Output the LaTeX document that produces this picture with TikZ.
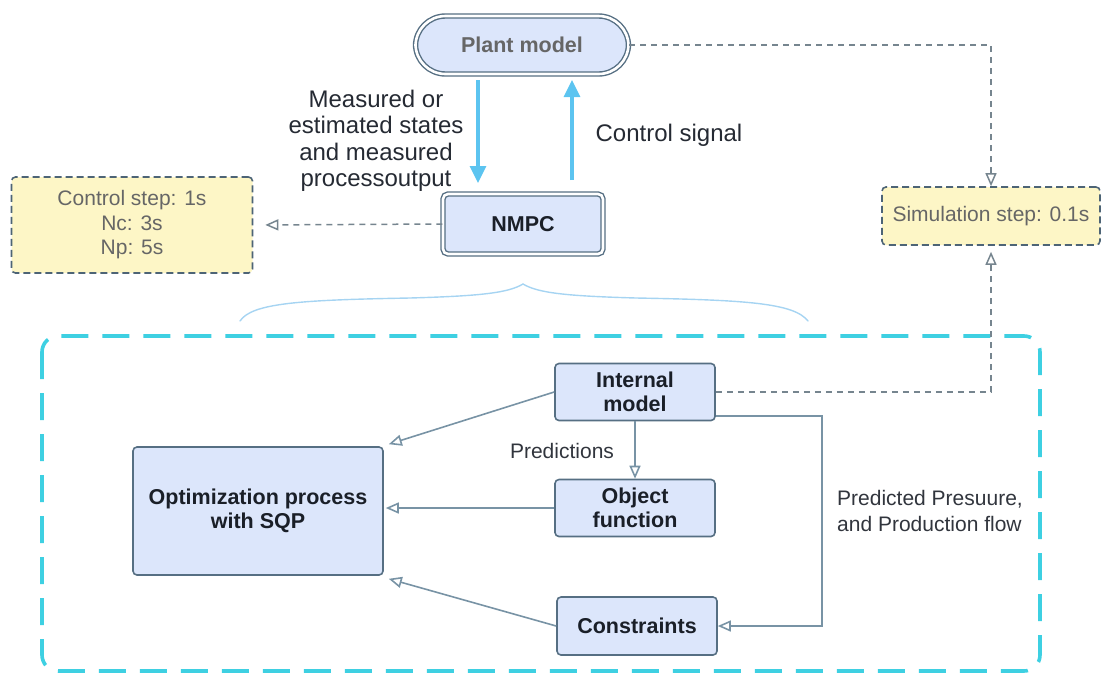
\documentclass[tikz,border=0pt]{standalone}
\usepackage{fontspec}
\setmainfont{Liberation Sans}
\usetikzlibrary{arrows.meta,calc}
\definecolor{boxfill}{HTML}{DCE6FB}
\definecolor{boxdraw}{HTML}{566F83}
\definecolor{yellowfill}{HTML}{FDF6C6}
\definecolor{conn}{HTML}{7893A5}
\definecolor{dashconn}{HTML}{76858F}
\definecolor{cyanline}{HTML}{3ED0E2}
\definecolor{bluearrow}{HTML}{5CC4F0}
\definecolor{bracecol}{HTML}{A6D4F2}
\definecolor{graytext}{HTML}{666666}
\definecolor{darktext}{HTML}{1A1F28}
\tikzset{
  procbox/.style={draw=boxdraw, line width=1.6pt, fill=boxfill, rounded corners=4pt,
    font=\fontsize{21.5}{24}\selectfont\bfseries, text=darktext, align=center,
    inner sep=0pt},
  notebox/.style={draw=boxdraw!90!black, line width=1.6pt, dash pattern=on 7pt off 4pt,
    fill=yellowfill, rounded corners=4pt, font=\fontsize{21}{24.5}\selectfont,
    text=graytext, align=center, inner sep=0pt},
  plainlabel/.style={font=\fontsize{21}{26}\selectfont, text=darktext!90, align=center, inner sep=0pt},
  biglabel/.style={font=\fontsize{24}{26.5}\selectfont, text=darktext!95, align=center, inner sep=0pt},
  opentip/.style={-{Triangle[open, length=13pt, width=11pt]}},
  solidconn/.style={draw=conn, line width=1.6pt, opentip},
  dashedconn/.style={draw=dashconn, line width=1.5pt, dash pattern=on 6pt off 5pt, opentip},
  bluearr/.style={draw=bluearrow, line width=3.2pt, -{Triangle[length=17pt, width=16pt]}},
}
\begin{document}
\begin{tikzpicture}[x=1pt, y=-1pt]
\useasboundingbox (0,0) rectangle (1108,686);

% Plant model (pill, double border)
\node[draw=boxdraw, line width=1.4pt, double=white, double distance=2.6pt,
  fill=boxfill, rounded corners=30pt, minimum width=213pt, minimum height=58pt,
  font=\fontsize{21.5}{24}\selectfont\bfseries, text=graytext, inner sep=0pt]
  (plant) at (522,45) {Plant model};

% NMPC (double border)
\node[draw=boxdraw, line width=1.4pt, double=white, double distance=2.6pt,
  fill=boxfill, rounded corners=5pt, minimum width=160pt, minimum height=60pt,
  font=\fontsize{21.5}{24}\selectfont\bfseries, text=darktext, inner sep=0pt]
  (nmpc) at (523,224) {NMPC};

% Note boxes
\node[notebox, minimum width=241pt, minimum height=96pt] (ctrl) at (132,225)
  {Control step: 1s\\Nc: 3s\\Np: 5s};
\node[notebox, minimum width=218pt, minimum height=58pt] (sim) at (991,216)
  {Simulation step: 0.1s};

% Labels top
\node[biglabel] (meas) at (376,141) {Measured or\\estimated states\\and measured\\processoutput};
\node[biglabel] (ctrlsig) at (669,135) {Control signal};

% Blue arrows
\coordinate (pdown) at (478,80);
\coordinate (ndown) at (478,183);
\coordinate (nup) at (572,180);
\coordinate (pup) at (572,80);
\draw[bluearr] (pdown) -- (ndown);
\draw[bluearr] (nup) -- (pup);

% NMPC -> control step
\draw[dashedconn, shorten >=12pt] (nmpc.west) -- (ctrl.east);

% Plant -> Simulation step
\coordinate (pc1) at (sim.north |- plant.east);
\draw[dashedconn] (plant.east) -- (pc1) -- (sim.north);

% Brace
\draw[bracecol, line width=1.4pt, line cap=round]
  (240,321) .. controls (252,303) and (300,300) .. (410,298)
  .. controls (480,296) and (508,293) .. (523,284)
  .. controls (538,293) and (566,296) .. (636,298)
  .. controls (746,300) and (794,303) .. (808,321);

% Big dashed frame
\draw[cyanline, line width=3.6pt, dash pattern=on 27pt off 14pt, rounded corners=16pt]
  (42,336) rectangle (1040,671);

% Inner boxes
\node[procbox, minimum width=160pt, minimum height=57pt] (im) at (635,392) {Internal\\model};
\node[procbox, minimum width=160pt, minimum height=57pt] (of) at (635,508) {Object\\function};
\node[procbox, minimum width=160pt, minimum height=58pt] (con) at (637,626) {Constraints};
\node[procbox, minimum width=250pt, minimum height=128pt] (opt) at (258,511) {Optimization process\\with SQP};

% Labels inner
\node[plainlabel] (pred) at (562,451) {Predictions};
\node[plainlabel, align=left] (ppf) at (930,511) {Predicted Presuure,\\ and Production flow};

% Solid connectors
\draw[solidconn] (im.west) -- ([xshift=5pt,yshift=2pt]opt.north east);
\draw[solidconn] (im.south) -- (of.north);
\draw[solidconn] (of.west) -- ([xshift=2pt]of.west -| opt.east);
\draw[solidconn] (con.west) -- ([xshift=5pt,yshift=-3pt]opt.south east);
\coordinate (r1) at (822,416);
\coordinate (r2) at (822,626);
\draw[solidconn] ([yshift=-24pt]im.east) -- (r1) -- (r2) -- (con.east);

% Internal model -> Simulation step
\coordinate (ic1) at (sim.south |- im.east);
\draw[dashedconn, shorten >=6pt] (im.east) -- (ic1) -- (sim.south);
\end{tikzpicture}
\end{document}
